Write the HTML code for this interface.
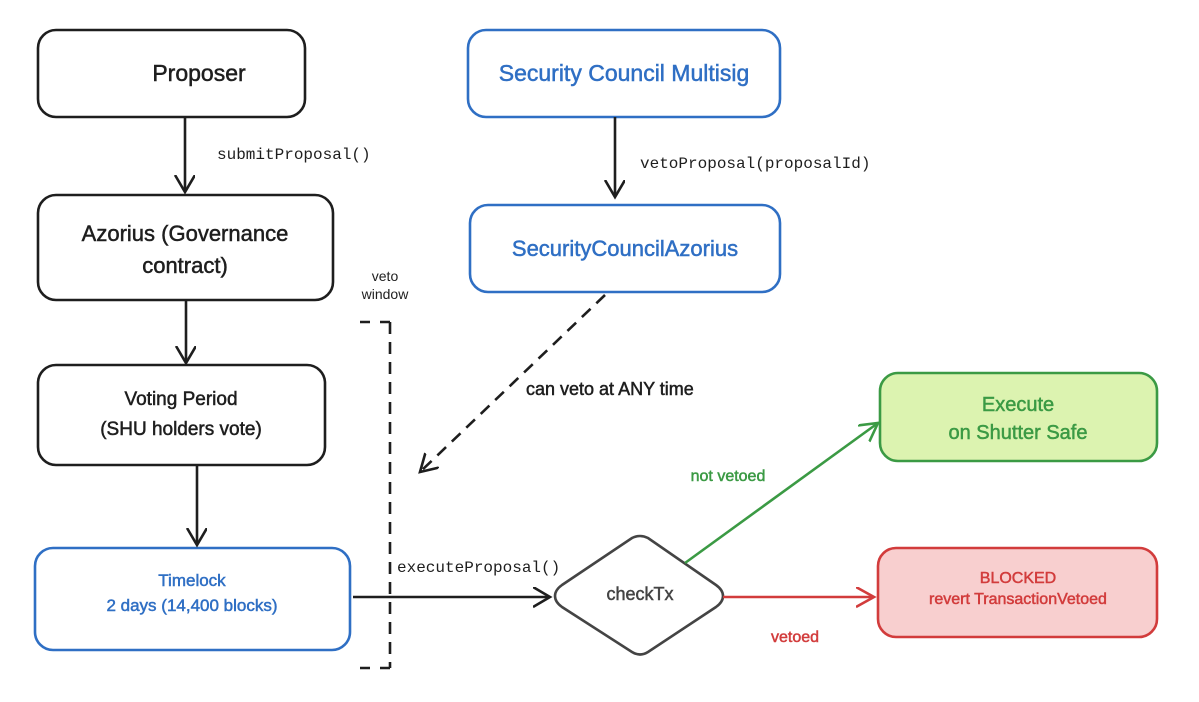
<!DOCTYPE html>
<html><head><meta charset="utf-8"><style>
html,body{margin:0;padding:0;background:#fff;}
svg{display:block;}
.h{font-family:"Liberation Sans",sans-serif;}
.m{font-family:"Liberation Mono",monospace;}
</style></head><body>
<svg width="1199" height="702" viewBox="0 0 1199 702" xmlns="http://www.w3.org/2000/svg">
<defs>
<marker id="ab" markerWidth="22" markerHeight="24" refX="17" refY="10" orient="auto" markerUnits="userSpaceOnUse"><path d="M0,0 L17,10 L0,20" fill="none" stroke="#1e1e1e" stroke-width="2.6"/></marker>
<marker id="ag" markerWidth="24" markerHeight="24" refX="18" refY="10" orient="auto" markerUnits="userSpaceOnUse"><path d="M0,0 L18,10 L0,20" fill="none" stroke="#3b9a44" stroke-width="2.6"/></marker>
<marker id="ar" markerWidth="24" markerHeight="24" refX="18" refY="10" orient="auto" markerUnits="userSpaceOnUse"><path d="M0,0 L18,10 L0,20" fill="none" stroke="#d23c3c" stroke-width="2.6"/></marker>
</defs>
<g fill="none" stroke-width="2.6">
<rect x="38" y="30" width="267" height="87" rx="18" stroke="#1e1e1e"/>
<rect x="468" y="30" width="312" height="87" rx="18" stroke="#2f6fc4"/>
<rect x="38" y="195" width="295" height="105" rx="18" stroke="#1e1e1e"/>
<rect x="470" y="205" width="310" height="87" rx="18" stroke="#2f6fc4"/>
<rect x="38" y="365" width="287" height="100" rx="18" stroke="#1e1e1e"/>
<rect x="35" y="548" width="315" height="102" rx="18" stroke="#2f6fc4"/>
<rect x="880" y="373" width="277" height="88" rx="18" stroke="#3b9a44" fill="#dcf3b0"/>
<rect x="878" y="548" width="279" height="89" rx="18" stroke="#d23c3c" fill="#f8cfcf"/>
<path d="M555,596 Q555,590 562,585 L632,538 Q640,534 648,538 L716,585 Q723,590 723,596 Q723,602 716,607 L648,652 Q640,657 632,652 L562,607 Q555,602 555,596Z" stroke="#444"/>
</g>
<g stroke="#1e1e1e" stroke-width="2.6" fill="none">
<line x1="185" y1="117" x2="185" y2="192" marker-end="url(#ab)"/>
<line x1="186" y1="300" x2="186" y2="363" marker-end="url(#ab)"/>
<line x1="197" y1="465" x2="197" y2="545" marker-end="url(#ab)"/>
<line x1="615" y1="117" x2="615" y2="197" marker-end="url(#ab)"/>
<line x1="353" y1="597" x2="550" y2="597" marker-end="url(#ab)"/>
<line x1="605" y1="295" x2="420" y2="472" stroke-dasharray="12,8" marker-end="url(#ab)"/>
<line x1="390" y1="322" x2="390" y2="668" stroke-dasharray="12,8"/>
<line x1="360" y1="322" x2="395" y2="322" stroke-dasharray="10,10"/>
<line x1="360" y1="668" x2="395" y2="668" stroke-dasharray="10,10"/>
</g>
<line x1="685" y1="563" x2="878" y2="423" stroke="#3b9a44" stroke-width="2.6" marker-end="url(#ag)"/>
<line x1="723" y1="597" x2="874" y2="597" stroke="#d23c3c" stroke-width="2.6" marker-end="url(#ar)"/>
<g class="h" text-anchor="middle" stroke-width="0.5">
<text x="199" y="81" font-size="23" fill="#1e1e1e" stroke="#1e1e1e">Proposer</text>
<text x="624" y="81" font-size="23" fill="#2f6fc4" stroke="#2f6fc4">Security Council Multisig</text>
<text x="185" y="241" font-size="22" fill="#1e1e1e" stroke="#1e1e1e">Azorius (Governance</text>
<text x="185" y="273" font-size="22" fill="#1e1e1e" stroke="#1e1e1e">contract)</text>
<text x="625" y="256" font-size="22" fill="#2f6fc4" stroke="#2f6fc4">SecurityCouncilAzorius</text>
<text x="181" y="405" font-size="19" fill="#1e1e1e" stroke="#1e1e1e">Voting Period</text>
<text x="181" y="435" font-size="19" fill="#1e1e1e" stroke="#1e1e1e">(SHU holders vote)</text>
<text x="192" y="586" font-size="17" fill="#2f6fc4" stroke="#2f6fc4">Timelock</text>
<text x="192" y="611" font-size="17" fill="#2f6fc4" stroke="#2f6fc4">2 days (14,400 blocks)</text>
<text x="640" y="600" font-size="18" fill="#444" stroke="#444">checkTx</text>
<text x="1018" y="411" font-size="20" fill="#3b9a44" stroke="#3b9a44">Execute</text>
<text x="1018" y="439" font-size="20" fill="#3b9a44" stroke="#3b9a44">on Shutter Safe</text>
<text x="1018" y="583" font-size="16" fill="#d23c3c" stroke="#d23c3c">BLOCKED</text>
<text x="1018" y="604" font-size="16" fill="#d23c3c" stroke="#d23c3c">revert TransactionVetoed</text>
<text x="385" y="281" font-size="14" fill="#1e1e1e">veto</text>
<text x="385" y="299" font-size="14" fill="#1e1e1e">window</text>
<text x="728" y="481" font-size="16" fill="#3b9a44" stroke="#3b9a44">not vetoed</text>
<text x="795" y="642" font-size="16" fill="#d23c3c" stroke="#d23c3c">vetoed</text>
</g>
<text class="h" x="526" y="395" font-size="18" fill="#1e1e1e" stroke="#1e1e1e" stroke-width="0.5">can veto at ANY time</text>
<g class="m" font-size="16" fill="#1e1e1e">
<text x="217" y="159">submitProposal()</text>
<text x="640" y="168">vetoProposal(proposalId)</text>
<text x="397" y="572">executeProposal()</text>
</g>
</svg>
</body></html>
